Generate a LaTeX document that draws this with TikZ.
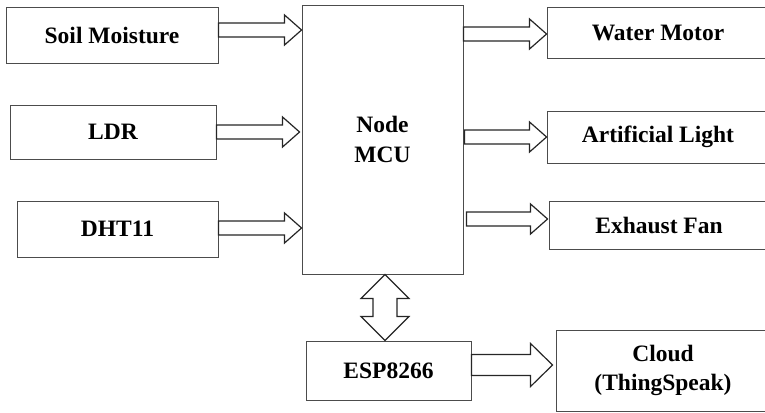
\documentclass[tikz,border=0pt]{standalone}
\usepackage{fontspec}
\setmainfont{Liberation Serif}
\usetikzlibrary{calc}

\tikzset{
  box/.style={draw=black!70, line width=0.9pt, fill=white, inner sep=0pt, align=center,
    font=\bfseries\fontsize{23.5}{29.5}\selectfont},
  % block arrow: shaft half width, head half width, head length
  fat/.style n args={3}{draw=black!85, line width=1.2pt, fill=white, line join=miter,
    to path={let \p1=(\tikztostart), \p2=(\tikztotarget) in
      ($(\p1)!#1!90:(\p2)$) -- ($(\p2)!#3!(\p1)!#1!-90:(\p1)$)
      -- ($(\p2)!#3!(\p1)!#2!-90:(\p1)$) -- (\p2)
      -- ($(\p2)!#3!(\p1)!#2!90:(\p1)$) -- ($(\p2)!#3!(\p1)!#1!90:(\p1)$)
      -- ($(\p1)!#1!-90:(\p2)$) -- cycle}},
  fatboth/.style n args={3}{draw=black!85, line width=1.2pt, fill=white, line join=miter,
    to path={let \p1=(\tikztostart), \p2=(\tikztotarget) in
      (\p1) -- ($(\p1)!#3!(\p2)!#2!90:(\p2)$) -- ($(\p1)!#3!(\p2)!#1!90:(\p2)$)
      -- ($(\p2)!#3!(\p1)!#1!-90:(\p1)$) -- ($(\p2)!#3!(\p1)!#2!-90:(\p1)$) -- (\p2)
      -- ($(\p2)!#3!(\p1)!#2!90:(\p1)$) -- ($(\p2)!#3!(\p1)!#1!90:(\p1)$)
      -- ($(\p1)!#3!(\p2)!#1!-90:(\p2)$) -- ($(\p1)!#3!(\p2)!#2!-90:(\p2)$) -- cycle}},
}

\begin{document}
\begin{tikzpicture}[x=1pt, y=-1pt]
  \useasboundingbox (0,0) rectangle (765,412);
  % sensors
  \node[box, minimum width=212pt, minimum height=56pt] (soil) at (112,35) {Soil Moisture};
  \node[box, minimum width=206pt, minimum height=54pt] (ldr) at (113,132) {LDR};
  \node[box, minimum width=201pt, minimum height=56pt] (dht) at (117.5,229) {DHT11};
  % controller
  \node[box, minimum width=161pt, minimum height=269pt] (mcu) at (382.5,139.5) {Node\\MCU};
  % outputs
  \node[box, minimum width=222pt, minimum height=51pt] (water) at (658,32.5) {Water Motor};
  \node[box, minimum width=222pt, minimum height=52pt] (light) at (658,137) {Artificial Light};
  \node[box, minimum width=220pt, minimum height=48pt] (fan) at (659,225) {Exhaust Fan};
  \node[box, minimum width=165pt, minimum height=59pt] (esp) at (388.5,370.5) {ESP8266};
  \node[box, minimum width=214pt, minimum height=81pt] (cloud) at (663,370.5) {Cloud\\(ThingSpeak)};

  \draw[fat={7pt}{15pt}{17pt}] ([yshift=5pt]soil.east) to ([yshift=5pt]soil.east -| mcu.west);
  \draw[fat={7pt}{15pt}{17pt}] (ldr.east) to ([xshift=-2pt]ldr.east -| mcu.west);
  \draw[fat={7pt}{15pt}{17pt}] ([yshift=1pt]dht.east) to ([yshift=1pt]dht.east -| mcu.west);
  \draw[fat={7pt}{15pt}{17pt}] ([yshift=-1.5pt]water.west -| mcu.east) to ([yshift=-1.5pt]water.west);
  \draw[fat={7pt}{15pt}{17pt}] ([xshift=1pt]light.west -| mcu.east) to (light.west);
  \draw[fat={7pt}{15pt}{17pt}] ([xshift=3pt, yshift=6pt]fan.west -| mcu.east) to ([xshift=-1pt, yshift=6pt]fan.west);
  \draw[fatboth={12pt}{24pt}{24pt}] ([xshift=2.5pt]mcu.south) to ([xshift=2.5pt]mcu.south |- esp.north);
  \draw[fat={10.5pt}{21.5pt}{22pt}] ([yshift=5.5pt]esp.east) to ([xshift=-3pt, yshift=5.5pt]esp.east -| cloud.west);
\end{tikzpicture}
\end{document}
